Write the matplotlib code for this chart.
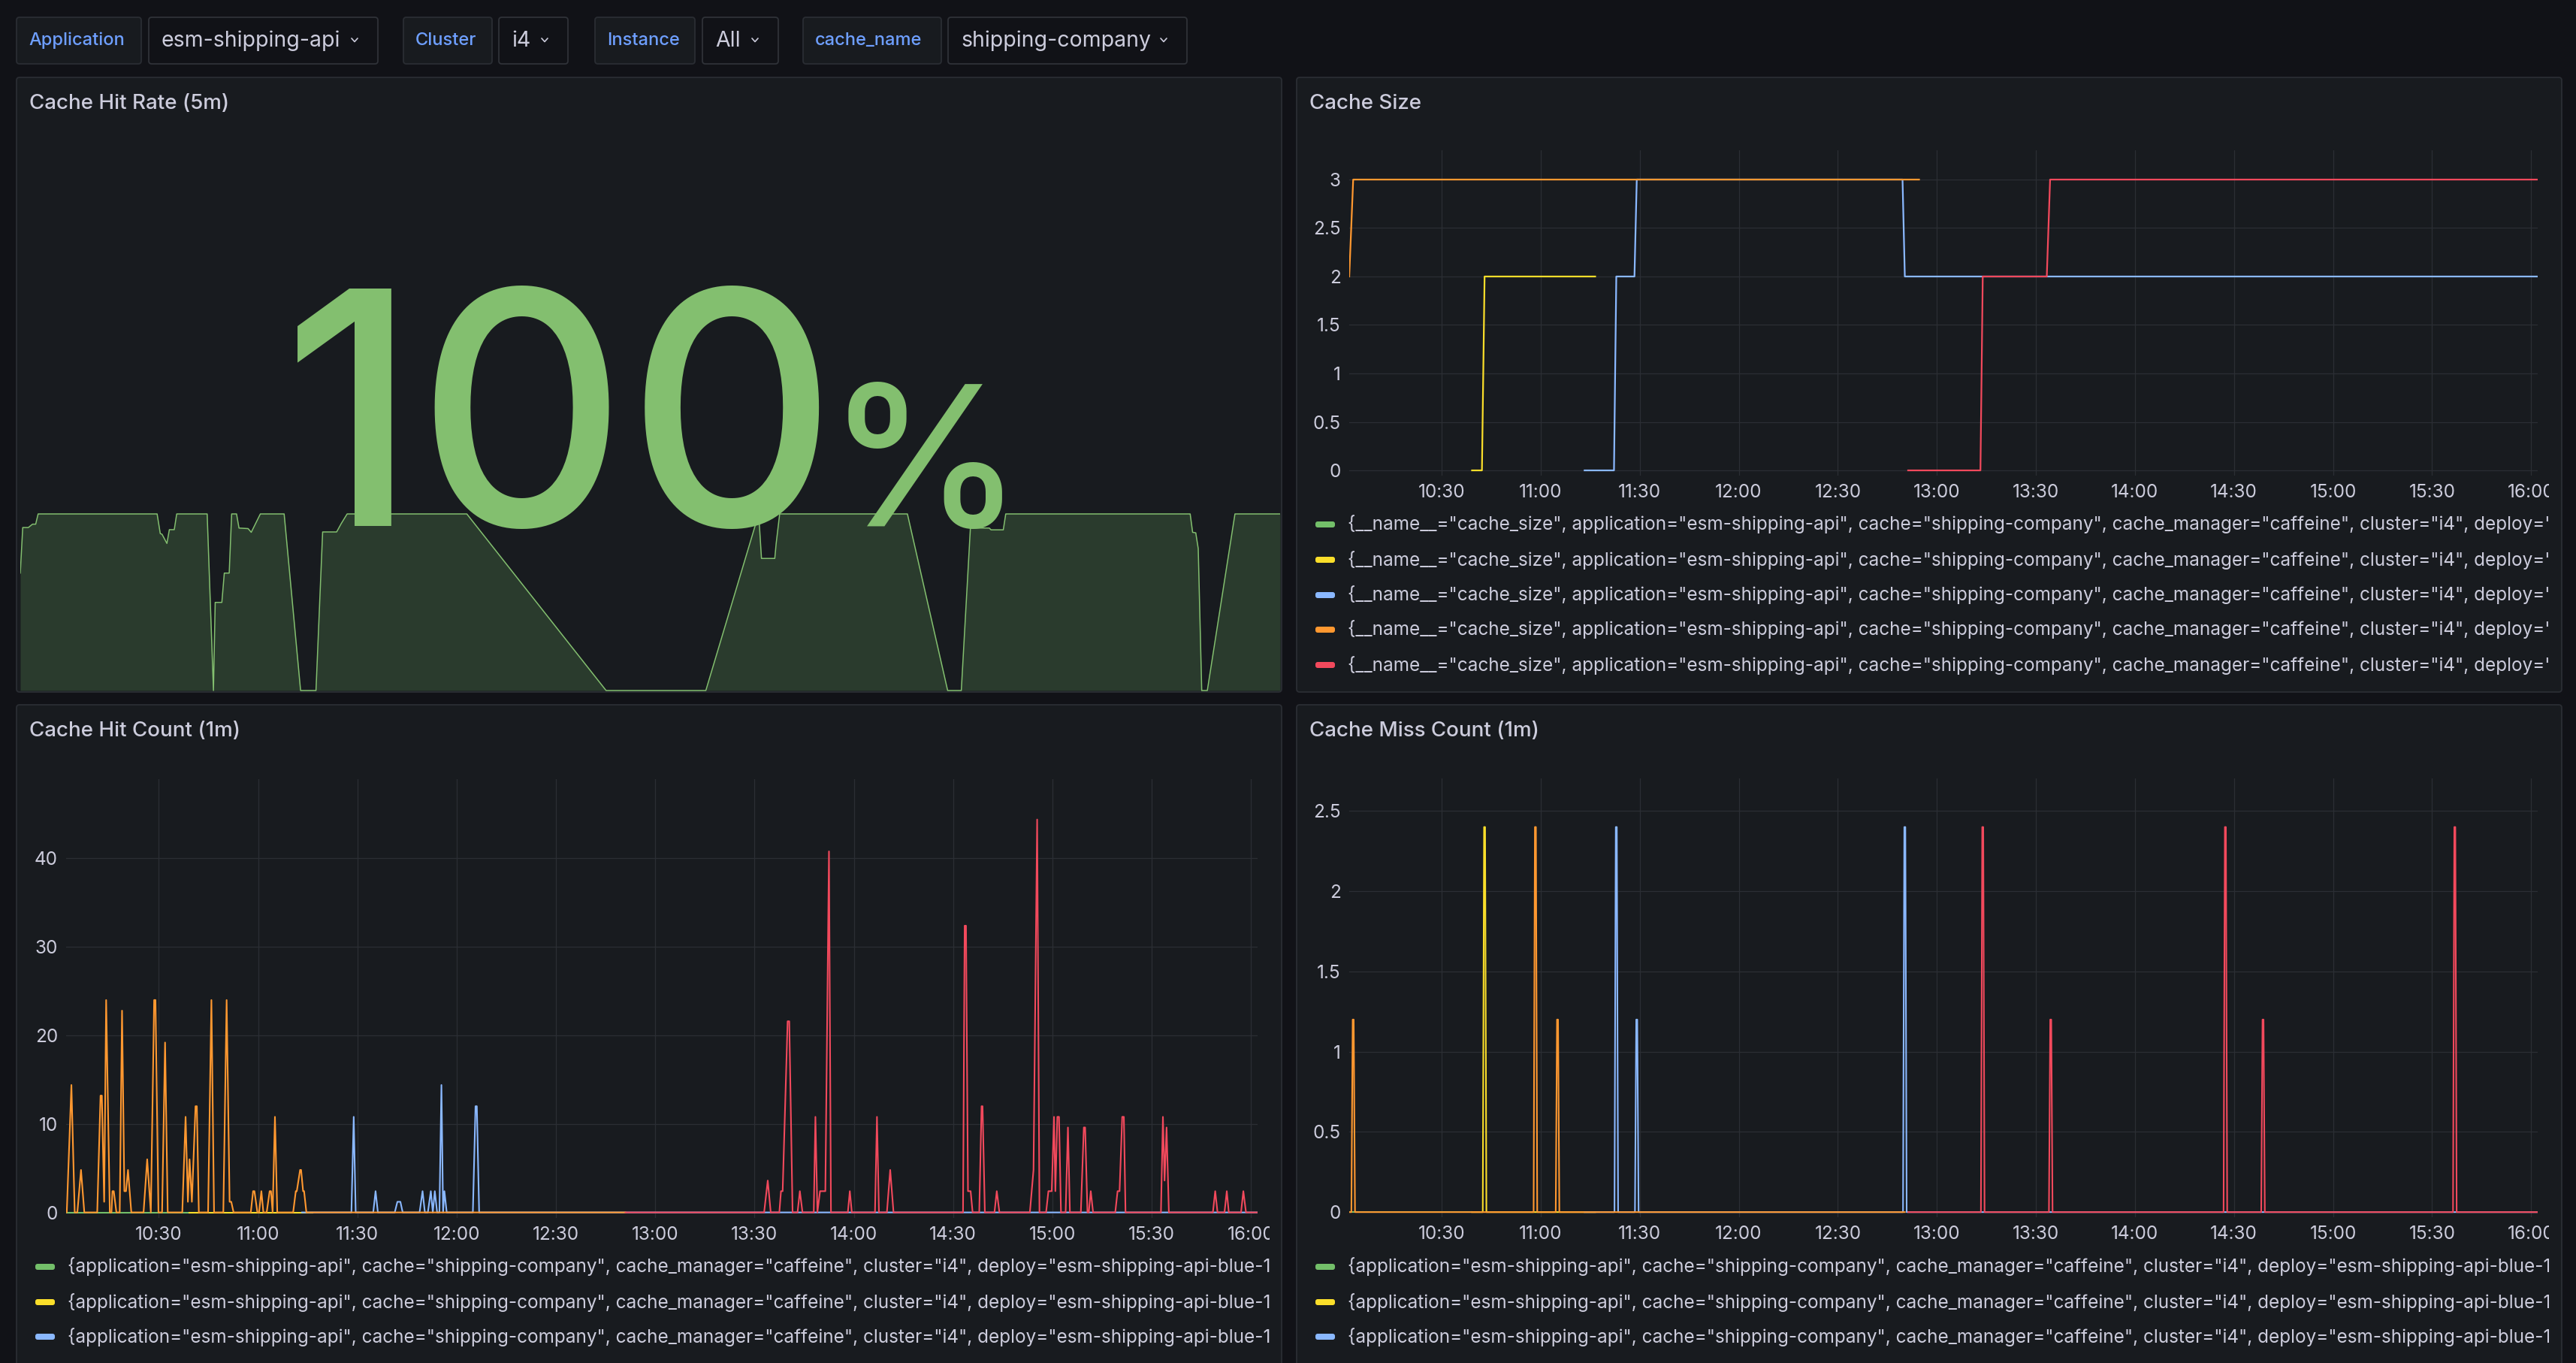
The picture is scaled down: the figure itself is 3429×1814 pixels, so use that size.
import datetime as dt

import matplotlib
matplotlib.use("Agg")
import matplotlib.pyplot as plt
import matplotlib.dates as mdates
from matplotlib.patches import FancyBboxPatch
from matplotlib.ticker import FuncFormatter
from matplotlib.transforms import Bbox, TransformedBbox

W, H = 3430, 1814
BG = "#111217"
PANEL = "#181b1f"
BORDER = "#2a2d33"
TEXT = "#ccccdc"
GRID = "#2b2e34"
LABEL_BLUE = "#6e9fff"

GREEN, YELLOW, BLUE, ORANGE, RED = "#73bf69", "#fade2a", "#8ab8ff", "#ff9830", "#f2495c"
STAT_GREEN = "#83bf6f"

plt.rcParams["font.family"] = ["Inter", "DejaVu Sans"]

# dashboard variables
var_labels = ["Application", "Cluster", "Instance", "cache_name"]
var_values = ["esm-shipping-api", "i4", "All", "shipping-company"]

# all times are minutes after 10:00, the range shown is 10:02 - 16:02
t_start, t_end = 2, 362

# Cache Hit Rate (5m) sparkline, percent
hit_rate_t = [2.0, 2.7, 4.3, 5.5, 6.4, 7.1, 41.1, 42.0, 42.5, 43.9, 44.6, 46.0, 46.7,
              55.4, 57.2, 57.7, 59.6, 60.3, 61.7, 62.4, 63.8, 64.5, 67.1, 68.0, 70.6,
              77.4, 82.1, 86.5, 88.4, 92.4, 93.7, 95.4, 129.6, 169.4, 197.9,
              213.0, 213.8, 217.6, 218.0, 219.0, 255.5, 267.0, 270.9, 273.5,
              278.9, 279.4, 282.9, 283.6, 336.3, 337.0, 337.9, 338.6, 339.6, 341.2, 349.1, 362.0]
hit_rate_v = [66.5, 92.3, 92.3, 94.2, 94.2, 100, 100, 88.9, 88.5, 83.3, 91.1, 91.1, 100,
              100, 0, 49.9, 49.9, 66.5, 66.5, 100, 100, 92.0, 91.7, 89.6, 100,
              100, 0, 0, 89.8, 89.8, 94.5, 100, 100, 0, 0,
              100, 74.8, 74.8, 83.3, 100, 100, 0, 0, 92.0,
              92.0, 91.0, 91.0, 100, 100, 89.6, 89.3, 80.4, 0, 0, 100, 100]
hit_rate_now = "100"

# Cache Size
size_orange_t = [2.0, 3.2, 174.6]
size_orange_v = [2, 3, 3]
size_yellow_t = [39.2, 42.2, 43.0, 76.5]
size_yellow_v = [0, 0, 2, 2]
size_blue_t = [73.3, 82.2, 82.9, 88.4, 89.1, 169.6, 170.3, 362.0]
size_blue_v = [0, 0, 2, 2, 3, 3, 2, 2]
size_red_t = [171.3, 193.2, 193.9, 213.3, 214.3, 362.0]
size_red_v = [0, 0, 2, 2, 3, 3]

# Cache Hit Count (1m)
hit_green_t = [2.0, 39.2]
hit_green_v = [0, 0]
hit_yellow_t = [39.2, 76.5]
hit_yellow_v = [0, 0]
hit_orange_t = [2.0, 2.2, 3.6, 4.6, 5.4, 6.5, 7.5, 11.4, 12.4, 12.8, 13.5, 14.1, 15.2,
                15.7, 16.0, 16.4, 17.2, 18.2, 18.9, 19.6, 20.1, 20.7, 21.7,
                25.4, 26.5, 27.6, 28.6, 29.0, 29.9, 31.0, 31.9, 32.7,
                37.1, 38.1, 38.8, 39.3, 40.0, 41.1, 41.5, 42.1, 44.9, 45.9, 46.7,
                49.5, 50.5, 51.4, 51.9, 52.6, 57.8, 58.5, 58.9, 59.8, 60.3, 61.0, 61.6,
                62.6, 63.5, 63.9, 64.4, 65.1, 65.8, 70.6, 71.4, 71.7, 72.7, 73.0, 73.6,
                73.9, 74.6, 171.0]
hit_orange_v = [0, 0, 14.4, 0, 0, 4.8, 0, 0, 13.2, 13.2, 1.2, 24.0, 0,
                0, 2.4, 2.4, 0, 0, 22.8, 2.4, 2.4, 4.8, 0,
                0, 6.0, 0, 24.0, 24.0, 0, 0, 19.2, 0,
                0, 10.8, 1.2, 6.0, 1.2, 12.0, 12.0, 0, 0, 24.0, 0,
                0, 24.0, 1.2, 1.2, 0, 0, 2.4, 2.4, 0, 0, 2.4, 0,
                0, 2.4, 2.4, 0, 10.8, 0, 0, 2.4, 2.4, 4.8, 4.8, 2.4,
                2.4, 0, 0]
hit_blue_t = [73.3, 88.2, 88.9, 89.5, 94.8, 95.5, 96.2, 101.3, 102.1, 103.0, 103.7,
              108.8, 109.7, 110.4, 111.3, 112.2, 112.8, 113.4, 114.1, 114.8, 115.4,
              115.9, 116.3, 117.0, 124.9, 125.7, 126.1, 126.8, 362.0]
hit_blue_v = [0, 0, 10.8, 0, 0, 2.4, 0, 0, 1.2, 1.2, 0,
              0, 2.4, 0, 0, 2.4, 0, 2.4, 0, 0, 14.4,
              0, 2.4, 0, 0, 12.0, 12.0, 0, 0]
hit_red_t = [171.0, 212.9, 214.0, 214.9, 217.5, 218.0, 218.5, 220.0, 220.5, 221.5,
             223.0, 223.7, 224.5, 227.9, 228.4, 229.0, 229.8, 231.4, 232.5, 233.1,
             238.2, 238.8, 239.4, 246.4, 247.0, 247.6, 250.0, 251.0, 252.0,
             273.0, 273.5, 273.9, 274.5, 275.3, 275.9, 277.9, 278.6, 278.9, 279.6,
             282.5, 283.2, 284.0, 293.2, 294.3, 295.4, 296.1,
             298.1, 298.8, 299.8, 300.5, 300.9, 301.5, 302.0, 302.6, 304.0, 304.7, 305.3,
             308.6, 309.5, 309.9, 310.6, 311.0, 311.6, 312.3,
             319.0, 319.7, 320.3, 321.1, 321.6, 322.1, 332.8, 333.4, 333.9, 334.5, 335.2,
             348.5, 349.2, 349.9, 352.0, 352.7, 353.3, 357.0, 357.7, 358.5, 362.0]
hit_red_v = [0, 0, 3.6, 0, 0, 2.4, 2.4, 21.6, 21.6, 0,
             0, 2.4, 0, 0, 10.8, 0, 2.4, 2.4, 40.8, 0,
             0, 2.4, 0, 0, 10.8, 0, 0, 4.8, 0,
             0, 32.4, 32.4, 2.4, 2.4, 0, 0, 12.0, 12.0, 0,
             0, 2.4, 0, 0, 4.8, 44.4, 0,
             0, 2.4, 2.4, 10.8, 2.4, 10.8, 10.8, 0, 0, 9.6, 0,
             0, 9.6, 9.6, 0, 0, 2.4, 0,
             0, 2.4, 2.4, 10.8, 10.8, 0, 0, 10.8, 3.6, 9.6, 0,
             0, 2.4, 0, 0, 2.4, 0, 0, 2.4, 0, 0]

# Cache Miss Count (1m)
miss_green_t = [2.0, 39.2]
miss_green_v = [0, 0]
miss_yellow_t = [39.2, 42.45, 42.85, 43.15, 43.55, 76.5]
miss_yellow_v = [0, 0, 2.4, 2.4, 0, 0]
miss_blue_t = [73.3, 82.35, 82.75, 83.05, 83.45, 88.55, 88.95, 89.25, 89.65,
               169.75, 170.15, 170.45, 170.85, 362.0]
miss_blue_v = [0, 0, 2.4, 2.4, 0, 0, 1.2, 1.2, 0, 0, 2.4, 2.4, 0, 0]
miss_orange_t = [2.0, 2.65, 3.05, 3.35, 3.75, 57.85, 58.25, 58.55, 58.95,
                 64.55, 64.95, 65.25, 65.65, 170.3]
miss_orange_v = [0, 0, 1.2, 1.2, 0, 0, 2.4, 2.4, 0, 0, 1.2, 1.2, 0, 0]
miss_red_t = [171.3, 193.35, 193.75, 194.05, 194.45, 213.95, 214.35, 214.65, 215.05,
              266.85, 267.25, 267.55, 267.95, 278.25, 278.65, 278.95, 279.35,
              336.35, 336.75, 337.05, 337.45, 362.0]
miss_red_v = [0, 0, 2.4, 2.4, 0, 0, 1.2, 1.2, 0,
              0, 2.4, 2.4, 0, 0, 1.2, 1.2, 0,
              0, 2.4, 2.4, 0, 0]

size_legend = ('{__name__="cache_size", application="esm-shipping-api", cache="shipping-company", '
               'cache_manager="caffeine", cluster="i4", deploy="')
count_legend = ('{application="esm-shipping-api", cache="shipping-company", '
                'cache_manager="caffeine", cluster="i4", deploy="esm-shipping-api-blue-1')

BASE = dt.datetime(2024, 1, 1, 10, 0)


def to_time(mins):
    return [BASE + dt.timedelta(minutes=m) for m in mins]


fig = plt.figure(figsize=(W / 100, H / 100), dpi=100, facecolor=BG)
canvas = fig.add_axes([0, 0, 1, 1], zorder=0)
canvas.set_xlim(0, W)
canvas.set_ylim(H, 0)
canvas.axis("off")


def fx(x):
    return x / W


def fy(y):
    return 1 - y / H


def clip_box(x0, y0, x1, y1):
    return TransformedBbox(Bbox.from_extents(fx(x0), fy(y1), fx(x1), fy(y0)), fig.transFigure)


def add_chart(x0, y0, x1, y1):
    ax = fig.add_axes([fx(x0), fy(y1), (x1 - x0) / W, (y1 - y0) / H], zorder=1)
    ax.set_facecolor("none")
    return ax


def box(x0, y0, x1, y1, fc, ec, r=4):
    canvas.add_patch(FancyBboxPatch((x0, y0), x1 - x0, y1 - y0,
                                    boxstyle=f"round,pad=0,rounding_size={r}",
                                    fc=fc, ec=ec, lw=1.3))


def panel(x0, y0, x1, y1, title):
    box(x0, y0, x1, y1, PANEL, BORDER)
    canvas.text(x0 + 17, y0 + 35, title, color=TEXT, fontsize=20, fontweight=500, va="center")


def chevron(cx, cy):
    canvas.plot([cx - 4, cx, cx + 4], [cy - 2, cy + 2.5, cy - 2], color=TEXT, lw=1.2,
                solid_capstyle="round")


# variable bar
label_boxes = [(22, 188), (537, 655), (792, 925), (1069, 1253)]
value_boxes = [(198, 503), (664, 756), (935, 1036), (1262, 1580)]
for lab, val, (lx0, lx1), (vx0, vx1) in zip(var_labels, var_values, label_boxes, value_boxes):
    box(lx0, 23, lx1, 85, PANEL, BORDER)
    box(vx0, 23, vx1, 85, BG, "#2f3238")
    canvas.text(lx0 + 16, 54, lab, color=LABEL_BLUE, fontsize=17, fontweight=500, va="center")
    canvas.text(vx0 + 17, 54, val, color=TEXT, fontsize=20.5, va="center")
    chevron(vx1 - 31, 53)

panel(22, 103, 1706, 921, "Cache Hit Rate (5m)")
panel(1726, 103, 3410, 921, "Cache Size")
panel(22, 938, 1706, 1840, "Cache Hit Count (1m)")
panel(1726, 938, 3410, 1840, "Cache Miss Count (1m)")

# --- Cache Hit Rate stat panel
ax1 = add_chart(27, 680, 1704, 921)
ax1.fill_between(to_time(hit_rate_t), hit_rate_v, 0, color=GREEN, alpha=0.2, lw=0)
ax1.plot(to_time(hit_rate_t), hit_rate_v, color=STAT_GREEN, lw=1.1)
ax1.set_xlim(to_time([t_start, t_end]))
ax1.set_ylim(-0.85, 101.7)
ax1.axis("off")
fig.text(fx(376), fy(700), hit_rate_now, color=STAT_GREEN, fontsize=312, fontweight=500,
         va="baseline", ha="left")
fig.text(fx(1102), fy(700), "%", color=STAT_GREEN, fontsize=188, fontweight=500,
         va="baseline", ha="left")


def style_time_axis(ax, ylim, yticks):
    ax.set_xlim(to_time([t_start, t_end]))
    ax.set_ylim(*ylim)
    ax.xaxis.set_major_locator(mdates.MinuteLocator(byminute=[0, 30]))
    ax.xaxis.set_major_formatter(mdates.DateFormatter("%H:%M"))
    ax.set_yticks(yticks)
    ax.yaxis.set_major_formatter(FuncFormatter(lambda v, p: f"{v:g}"))
    ax.grid(True, color=GRID, lw=0.9)
    ax.set_axisbelow(True)
    ax.tick_params(length=0, colors=TEXT, labelsize=17.5)
    ax.tick_params(axis="x", pad=8)
    ax.tick_params(axis="y", pad=8)
    for s in ax.spines.values():
        s.set_visible(False)


def legend(x0, rows, text, clip_right):
    for y, c in rows:
        canvas.add_patch(FancyBboxPatch((x0 - 13, y - 4), 26, 8,
                                        boxstyle="round,pad=0,rounding_size=3", fc=c, ec="none"))
        t = canvas.text(x0 + 30, y, text, color=TEXT, fontsize=17.5, va="center")
        t.set_clip_box(clip_box(0, 0, clip_right, H))
        t.set_clip_on(True)


# --- Cache Size
ax2 = add_chart(1796, 200, 3378, 633)
for tt, vv, c in [(size_yellow_t, size_yellow_v, YELLOW), (size_blue_t, size_blue_v, BLUE),
                  (size_orange_t, size_orange_v, ORANGE), (size_red_t, size_red_v, RED)]:
    ax2.plot(to_time(tt), vv, color=c, lw=1.6)
style_time_axis(ax2, (-0.054, 3.302), [0, 0.5, 1, 1.5, 2, 2.5, 3])
legend(1764, list(zip([698, 745, 792, 838, 885], [GREEN, YELLOW, BLUE, ORANGE, RED])),
       size_legend, 3393)

# --- Cache Hit Count
ax3 = add_chart(88, 1036.5, 1674, 1621)
for tt, vv, c in [(hit_green_t, hit_green_v, GREEN), (hit_yellow_t, hit_yellow_v, YELLOW),
                  (hit_blue_t, hit_blue_v, BLUE), (hit_orange_t, hit_orange_v, ORANGE),
                  (hit_red_t, hit_red_v, RED)]:
    ax3.plot(to_time(tt), vv, color=c, lw=1.5)
style_time_axis(ax3, (-0.63, 49.0), [0, 10, 20, 30, 40])
legend(60, list(zip([1686, 1733, 1779], [GREEN, YELLOW, BLUE])), count_legend, 1690)

# --- Cache Miss Count
ax4 = add_chart(1796, 1036, 3378, 1620)
for tt, vv, c in [(miss_green_t, miss_green_v, GREEN), (miss_yellow_t, miss_yellow_v, YELLOW),
                  (miss_blue_t, miss_blue_v, BLUE), (miss_orange_t, miss_orange_v, ORANGE),
                  (miss_red_t, miss_red_v, RED)]:
    ax4.plot(to_time(tt), vv, color=c, lw=1.5)
style_time_axis(ax4, (-0.032, 2.703), [0, 0.5, 1, 1.5, 2, 2.5])
legend(1764, list(zip([1686, 1733, 1779], [GREEN, YELLOW, BLUE])), count_legend, 3393)

# cut the last time label at the panel edge like the dashboard does
fig.canvas.draw()
for ax, right in ((ax2, 3393), (ax3, 1690), (ax4, 3393)):
    for lab in ax.get_xticklabels():
        lab.set_clip_box(clip_box(0, 0, right, H))
        lab.set_clip_on(True)

fig.savefig("out.png", dpi=100, facecolor=BG)
